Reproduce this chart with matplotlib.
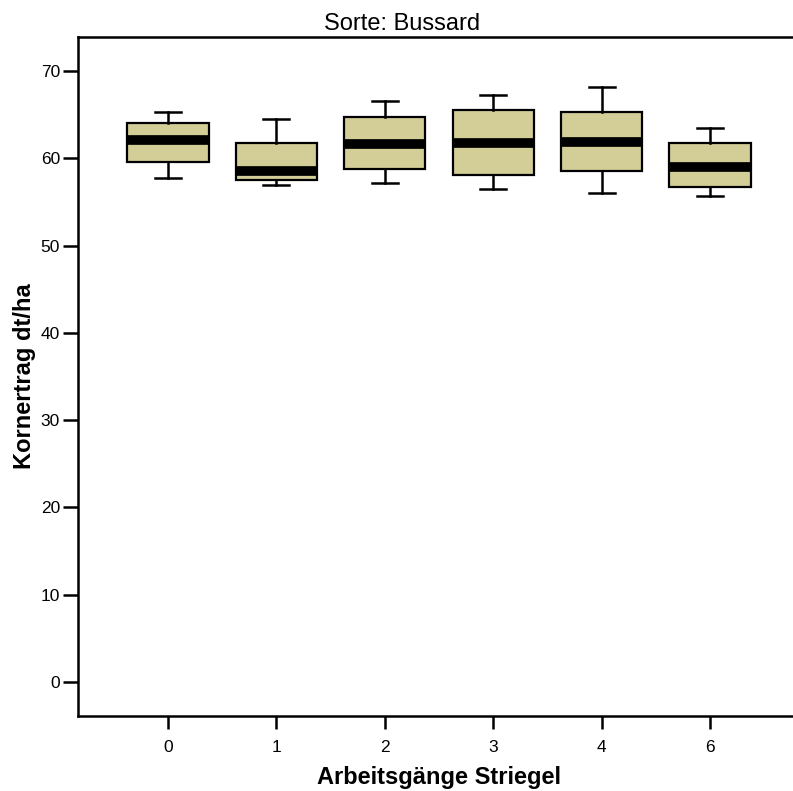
import matplotlib
matplotlib.use("Agg")
import matplotlib.pyplot as plt

plt.rcParams['font.family'] = ['Liberation Sans', 'DejaVu Sans']

# Kornertrag (dt/ha) per number of harrow passes
groups = ["0", "1", "2", "3", "4", "6"]
whislo = [57.7, 57.0, 57.2, 56.5, 56.0, 55.7]
q1 = [59.6, 57.5, 58.8, 58.1, 58.6, 56.7]
med = [62.1, 58.5, 61.6, 61.7, 61.9, 59.0]
q3 = [64.0, 61.7, 64.7, 65.5, 65.3, 61.8]
whishi = [65.3, 64.5, 66.6, 67.3, 68.2, 63.5]

stats = [dict(label=g, whislo=lo, q1=a, med=m, q3=b, whishi=hi, fliers=[])
         for g, lo, a, m, b, hi in zip(groups, whislo, q1, med, q3, whishi)]

fig = plt.figure(figsize=(7.93, 7.91), dpi=100)
ax = fig.add_axes([0.0984, 0.0948, 0.9105, 0.8584])

ax.bxp(stats, positions=range(len(groups)), widths=0.75, patch_artist=True,
       capwidths=0.24,
       boxprops=dict(facecolor='#d3ce98', edgecolor='black', linewidth=1.6),
       medianprops=dict(color='black', linewidth=7, solid_capstyle='butt'),
       whiskerprops=dict(color='black', linewidth=1.8),
       capprops=dict(color='black', linewidth=1.8))

ax.set_xlim(-0.83, 5.83)
ax.set_ylim(-3.9, 73.9)
ax.set_yticks(range(0, 71, 10))
ax.set_xticks(range(len(groups)))
ax.set_xticklabels(groups)

for s in ['left', 'top', 'bottom']:
    ax.spines[s].set_linewidth(1.8)
ax.spines['right'].set_visible(False)
ax.tick_params(axis='y', length=11, width=1.8, labelsize=12.5, pad=2)
ax.tick_params(axis='x', length=9, width=1.8, labelsize=12.5, pad=8)

ax.set_xlabel("Arbeitsgänge Striegel", fontsize=17, fontweight='bold', labelpad=8)
ax.set_ylabel("Kornertrag dt/ha", fontsize=17, fontweight='bold', labelpad=3)
fig.text(402 / 793, 1 - 24 / 791, "Sorte: Bussard", fontsize=17,
         ha='center', va='center')

fig.savefig("out.png", dpi=100)
